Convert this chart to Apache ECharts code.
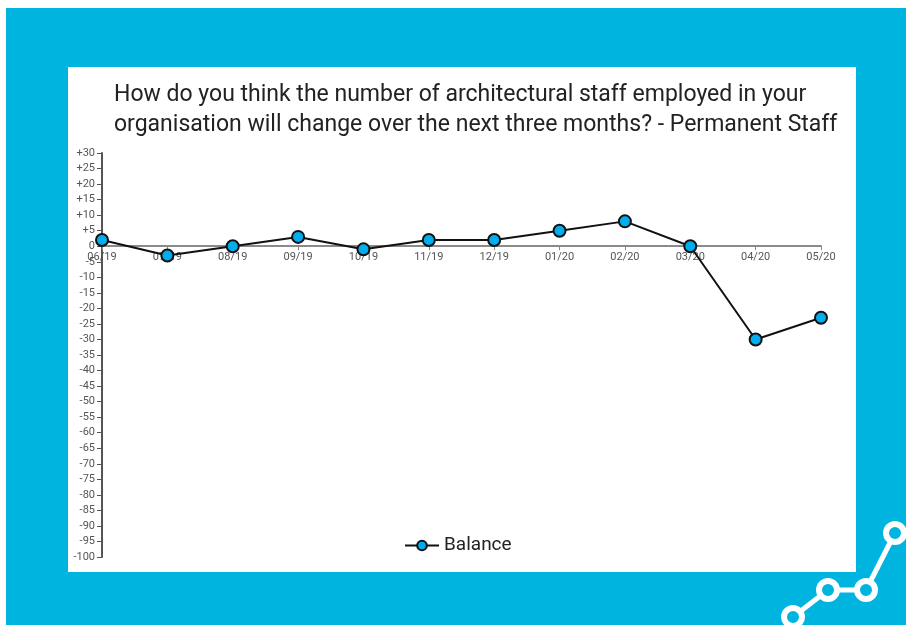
<!DOCTYPE html>
<html>
<head>
<meta charset="utf-8">
<script src="https://cdn.jsdelivr.net/npm/echarts@6/dist/echarts.min.js"></script>
<style>
html,body{margin:0;padding:0;background:#fff;}
#c{width:906px;height:625px;}
</style>
</head>
<body>
<div id="c"></div>
<script>
const categories = ['06/19','07/19','08/19','09/19','10/19','11/19','12/19','01/20','02/20','03/20','04/20','05/20'];
const balance = [2, -3, 0, 3, -1, 2, 2, 5, 8, 0, -30, -23];
const seriesName = 'Balance';
const titleText = 'How do you think the number of architectural staff employed in your\norganisation will change over the next three months? - Permanent Staff';

const BLUE = '#00B4E0';
const FONT = 'Roboto';
const chart = echarts.init(document.getElementById('c'), null, {renderer:'canvas'});

function ring(cx, cy) {
  return {type:'circle', shape:{cx:cx, cy:cy, r:9}, style:{fill:BLUE, stroke:'#fff', lineWidth:6}, z:2};
}
function seg(x1,y1,x2,y2){
  return {type:'line', shape:{x1:x1,y1:y1,x2:x2,y2:y2}, style:{stroke:'#fff', lineWidth:5}, z:1};
}

const gridTop = 153, gridBottom = 68, yMin = -100, yMax = 30;
const plotH = 625 - gridTop - gridBottom;
const zeroOffset = -plotH * (0 - yMin) / (yMax - yMin);

chart.setOption({
  animation:false,
  backgroundColor:'#fff',
  graphic:[
    {type:'rect', shape:{x:6,y:8,width:900,height:617}, style:{fill:BLUE}, z:-10},
    {type:'rect', shape:{x:68,y:67,width:788,height:505}, style:{fill:'#fff'}, z:-9},
    seg(793,617,828,590), seg(828,590,866,590), seg(866,590,895,533),
    ring(793,617), ring(828,590), ring(866,590), ring(895,533)
  ],
  title:{
    text:titleText,
    left:109, top:75,
    textStyle:{fontFamily:FONT, fontSize:23, fontWeight:'normal', color:'#222', lineHeight:30}
  },
  legend:{
    data:[seriesName],
    left:399, top:531,
    itemWidth:34, itemHeight:12, itemGap:2,
    textStyle:{fontFamily:FONT, fontSize:19, color:'#222'}
  },
  grid:{left:102, right:85, top:gridTop, bottom:gridBottom, containLabel:false},
  xAxis:{
    type:'category',
    data:categories,
    boundaryGap:false,
    offset:zeroOffset,
    axisLine:{onZero:false, lineStyle:{color:'#8a8a8a', width:2}},
    axisTick:{show:true, alignWithLabel:true, length:4, lineStyle:{color:'#8a8a8a'}},
    axisLabel:{fontFamily:FONT, fontSize:11, color:'#555', margin:6}
  },
  yAxis:{
    type:'value',
    min:yMin, max:yMax, interval:5,
    axisLine:{show:true, lineStyle:{color:'#555', width:2}},
    axisTick:{show:true, length:5, lineStyle:{color:'#555'}},
    splitLine:{show:false},
    axisLabel:{
      fontFamily:FONT, fontSize:11, color:'#555', margin:7,
      formatter:function(v){ return v>0 ? '+'+v : String(v); }
    }
  },
  series:[{
    name:seriesName,
    type:'line',
    data:balance,
    symbol:'circle',
    symbolSize:12,
    lineStyle:{color:'#111', width:2},
    itemStyle:{color:'#00AEEF', borderColor:'#111', borderWidth:2}
  }]
});
</script>
</body>
</html>
